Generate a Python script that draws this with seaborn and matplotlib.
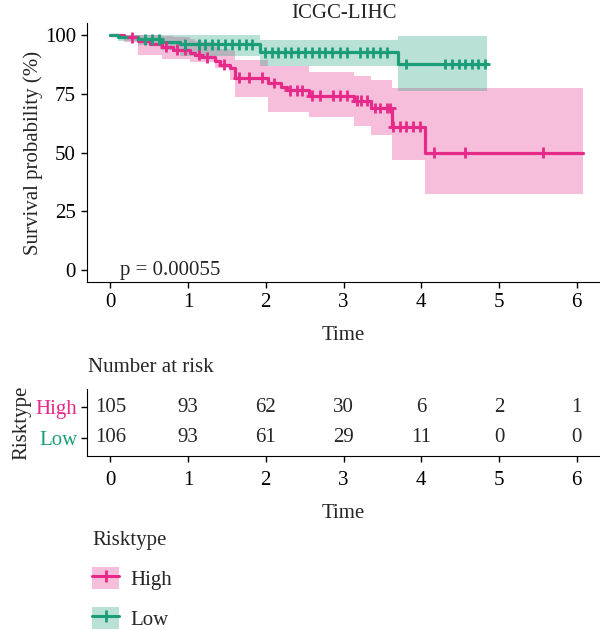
import numpy as np
import pandas as pd
import matplotlib
matplotlib.use('Agg')
import matplotlib.pyplot as plt
import seaborn as sns
from matplotlib.patches import Patch
from matplotlib.lines import Line2D
from matplotlib.legend_handler import HandlerTuple

sns.set_style('ticks')
plt.rcParams['font.family'] = ['Liberation Serif', 'DejaVu Serif']
plt.rcParams['axes.edgecolor'] = 'black'
plt.rcParams['xtick.color'] = 'black'
plt.rcParams['ytick.color'] = 'black'

colors = {'High': '#E7298A', 'Low': '#1B9E77'}
FS = 15

# Kaplan-Meier steps (time in years, survival in %)
high_time = [0, 0.17, 0.36, 0.51, 0.66, 0.81, 1.03, 1.09, 1.18, 1.35, 1.41, 1.54, 1.61,
             2.03, 2.19, 2.27, 2.55, 3.13, 3.36, 3.62, 4.05, 6.08]
high_surv = [100, 99.0, 97.2, 96.0, 95.0, 93.6, 92.2, 91.5, 90.4, 88.7, 87.3, 86.0, 81.8,
             79.5, 78.0, 76.4, 74.2, 72.0, 68.9, 60.9, 50.0, 50.0]
high_lower = [100, 97.0, 91.5, 91.5, 89.7, 89.7, 88.3, 88.3, 88.3, 86.0, 86.0, 81.0, 73.6,
              67.0, 67.0, 67.0, 65.0, 61.4, 57.6, 47.0, 32.5, 32.5]
high_upper = [100, 100, 100, 100, 99.5, 99.0, 98.0, 97.5, 97.0, 95.0, 94.0, 93.0, 89.4,
              86.6, 86.6, 86.6, 84.0, 82.4, 80.6, 77.4, 77.4, 77.4]
high_censor = [0.28, 0.71, 0.86, 0.96, 1.14, 1.24, 1.46, 1.65, 1.78, 1.95, 2.10, 2.31, 2.40,
               2.46, 2.59, 2.70, 2.87, 2.96, 3.04, 3.17, 3.23, 3.30, 3.41, 3.47, 3.56, 3.60,
               3.64, 3.73, 3.81, 3.90, 3.98, 4.16, 4.56, 5.57]

low_time = [0, 0.10, 0.35, 0.65, 0.90, 1.93, 3.70, 4.85]
low_surv = [100, 99.0, 98.0, 97.0, 96.0, 92.6, 87.6, 87.6]
low_lower = [100, 97.5, 95.8, 93.6, 90.8, 86.6, 76.0, 76.0]
low_upper = [100, 100, 100, 100, 100, 97.9, 99.3, 99.3]
low_censor = [0.45, 0.54, 0.62, 0.96, 1.14, 1.22, 1.31, 1.39, 1.48, 1.56, 1.65, 1.74, 1.82,
              1.99, 2.08, 2.16, 2.25, 2.33, 2.42, 2.51, 2.59, 2.68, 2.76, 2.85, 2.96, 3.04,
              3.21, 3.30, 3.38, 3.47, 3.56, 3.81, 4.31, 4.39, 4.48, 4.56, 4.65, 4.73, 4.82]

risk_times = [0, 1, 2, 3, 4, 5, 6]
risk_high = [105, 93, 62, 30, 6, 2, 1]
risk_low = [106, 93, 61, 29, 11, 0, 0]

curves = {
    'High': (high_time, high_surv, high_lower, high_upper, high_censor),
    'Low': (low_time, low_surv, low_lower, low_upper, low_censor),
}

curve_df = pd.concat([pd.DataFrame({'time': v[0], 'surv': v[1], 'Risktype': k})
                      for k, v in curves.items()], ignore_index=True)

cens_rows = []
for k, (t, s, lo, up, cen) in curves.items():
    idx = np.searchsorted(t, cen, side='right') - 1
    cens_rows.append(pd.DataFrame({'time': cen, 'surv': np.asarray(s)[idx], 'Risktype': k}))
cens_df = pd.concat(cens_rows, ignore_index=True)

fig = plt.figure(figsize=(6, 6.3), dpi=100)
ax = fig.add_axes([87 / 600, 1 - 282 / 630, 513 / 600, 259 / 630])

for k, (t, s, lo, up, cen) in curves.items():
    ax.fill_between(t, lo, up, step='post', color=colors[k], alpha=0.3, lw=0)

sns.lineplot(data=curve_df, x='time', y='surv', hue='Risktype', palette=colors,
             drawstyle='steps-post', estimator=None, lw=2.3, legend=False, ax=ax)
sns.scatterplot(data=cens_df, x='time', y='surv', hue='Risktype', palette=colors,
                marker='+', s=60, linewidth=2, legend=False, ax=ax, zorder=3)

ax.set_xlim(-0.3, 6.3)
ax.set_ylim(-5, 105)
ax.set_xticks(risk_times)
ax.set_yticks([0, 25, 50, 75, 100])
ax.tick_params(labelsize=FS, length=4, width=1, pad=4)
ax.set_xlabel('Time', fontsize=FS, labelpad=10)
ax.set_ylabel('Survival probability (%)', fontsize=FS, labelpad=1)
ax.set_title('ICGC-LIHC', fontsize=FS, pad=3)
ax.text(0.13, 0, 'p = 0.00055', fontsize=FS, va='center', ha='left')
sns.despine(ax=ax)

# risk table
rax = fig.add_axes([87 / 600, 1 - 456 / 630, 513 / 600, 67 / 630])
for y, k, vals in [(1, 'High', risk_high), (0, 'Low', risk_low)]:
    for t, n in zip(risk_times, vals):
        rax.text(t, y, str(n), fontsize=FS, ha='center', va='center')
rax.set_xlim(-0.3, 6.3)
rax.set_ylim(-0.6, 1.6)
rax.set_xticks(risk_times)
rax.set_yticks([1, 0])
rax.set_yticklabels(['High', 'Low'])
for lab, k in zip(rax.get_yticklabels(), ['High', 'Low']):
    lab.set_color(colors[k])
rax.tick_params(labelsize=FS, length=4, width=1, pad=7)
rax.tick_params(axis='y', pad=3)
rax.set_xlabel('Time', fontsize=FS, labelpad=10)
rax.set_ylabel('Risktype', fontsize=FS, labelpad=3)
sns.despine(ax=rax)
fig.text(88 / 600, 1 - 367 / 630, 'Number at risk', fontsize=FS, ha='left', va='center')

# legend
handles = [(Patch(facecolor=colors[k], alpha=0.3, lw=0),
            Line2D([], [], color=colors[k], lw=2.2, marker='+', ms=8, mew=2))
           for k in ['High', 'Low']]
leg = fig.legend(handles, ['High', 'Low'], title='Risktype', loc='upper left',
                 bbox_to_anchor=(92 / 600, 1 - 531 / 630), frameon=False,
                 fontsize=FS, title_fontsize=FS, handlelength=1.3, handleheight=1.3,
                 labelspacing=0.8, handletextpad=0.53, borderpad=0, borderaxespad=0,
                 alignment='left', numpoints=1,
                 handler_map={tuple: HandlerTuple(ndivide=1, pad=0)})

fig.savefig('out.png', dpi=100)
